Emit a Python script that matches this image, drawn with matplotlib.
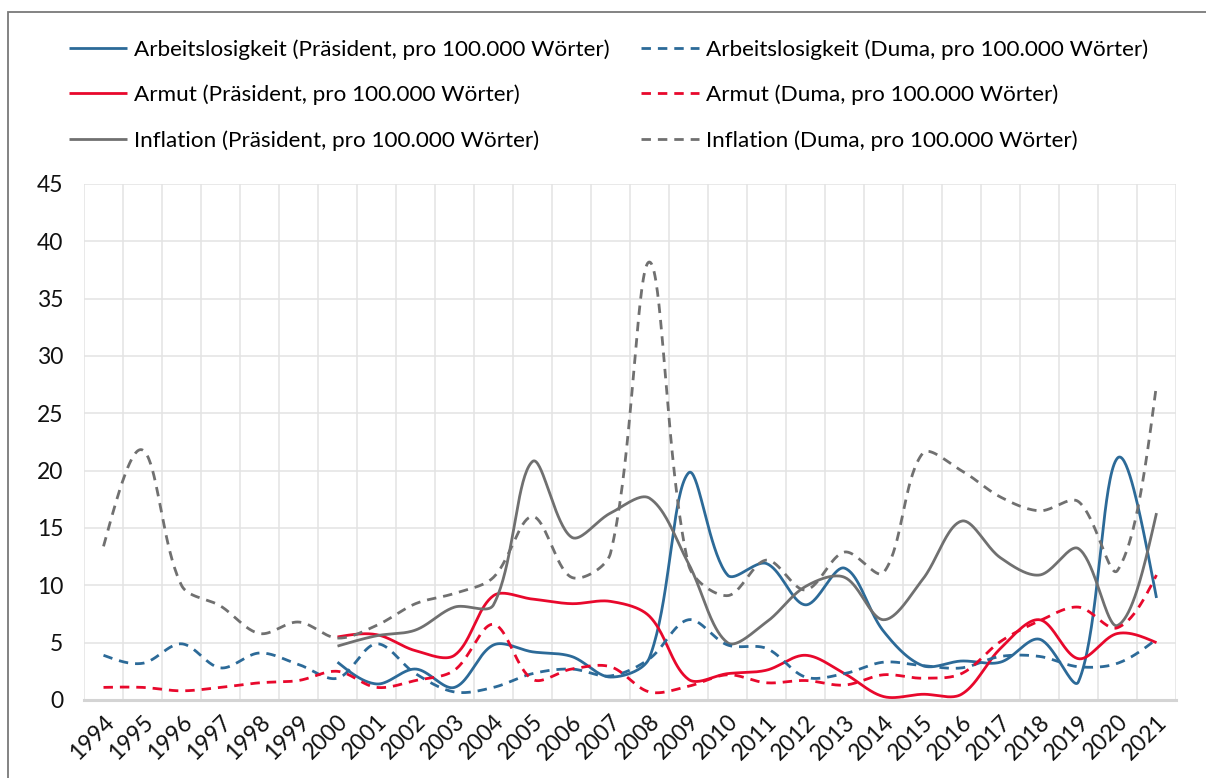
import numpy as np
import matplotlib
matplotlib.use("Agg")
from matplotlib import pyplot as plt
from matplotlib.patches import Rectangle

plt.rcParams['font.family'] = ['Lato', 'DejaVu Sans']

years = list(range(1994, 2022))

# Präsident-Reihen beginnen erst 2000 (None = kein Wert)
arbeit_praes = [None] * 6 + [3.3, 1.4, 2.7, 1.1, 4.8, 4.2, 3.8, 2.0, 3.7, 19.8,
                             10.9, 11.9, 8.3, 11.5, 6.0, 3.0, 3.4, 3.3, 5.3, 1.6, 21.1, 8.9]
armut_praes = [None] * 6 + [5.5, 5.7, 4.3, 3.9, 9.1, 8.8, 8.4, 8.6, 7.3, 1.8,
                            2.3, 2.6, 3.9, 2.3, 0.3, 0.5, 0.5, 4.5, 7.0, 3.6, 5.8, 5.0]
infl_praes = [None] * 6 + [4.7, 5.6, 6.1, 8.1, 8.3, 20.8, 14.2, 16.3, 17.6, 11.9,
                           5.0, 6.8, 9.9, 10.7, 7.0, 10.5, 15.6, 12.4, 10.9, 13.2, 6.5, 16.3]

arbeit_duma = [3.9, 3.2, 4.9, 2.8, 4.1, 3.1, 1.9, 4.9, 2.3, 0.7, 1.1, 2.3, 2.7, 2.1,
               3.6, 7.0, 4.8, 4.5, 2.0, 2.3, 3.3, 3.0, 2.8, 3.8, 3.8, 2.9, 3.2, 5.3]
armut_duma = [1.1, 1.1, 0.8, 1.1, 1.5, 1.7, 2.5, 1.1, 1.7, 2.6, 6.6, 1.8, 2.7, 2.9,
              0.7, 1.2, 2.2, 1.5, 1.7, 1.3, 2.2, 1.9, 2.3, 5.1, 6.9, 8.1, 6.3, 10.9]
infl_duma = [13.4, 21.8, 10.0, 8.2, 5.8, 6.8, 5.4, 6.5, 8.4, 9.3, 10.7, 16.0, 10.7, 12.8,
             38.2, 11.8, 9.1, 12.2, 9.6, 12.9, 11.1, 21.5, 20.0, 17.7, 16.5, 17.3, 11.3, 27.5]

labels_praes = ['Arbeitslosigkeit (Präsident, pro 100.000 Wörter)',
                'Armut (Präsident, pro 100.000 Wörter)',
                'Inflation (Präsident, pro 100.000 Wörter)']
labels_duma = ['Arbeitslosigkeit (Duma, pro 100.000 Wörter)',
               'Armut (Duma, pro 100.000 Wörter)',
               'Inflation (Duma, pro 100.000 Wörter)']

BLUE = '#2C6A98'
RED = '#E8082C'
GRAY = '#707070'

# Pixel pro Einheit (nur für die Sehnenlängen beim Glätten)
SX, SY = 39.0, 11.47


def smooth(xs, ys, n=40):
    # geglättete Linie ähnlich Excel: Bezier mit sehnenlängen-gewichteten Tangenten
    pts = np.array([(x, y) for x, y in zip(xs, ys) if y is not None], float)
    m = len(pts)
    scaled = pts * [SX, SY]
    d = np.hypot(*np.diff(scaled, axis=0).T)
    c_out = pts.copy()
    c_in = pts.copy()
    for i in range(1, m - 1):
        tan = pts[i + 1] - pts[i - 1]
        c_in[i] = pts[i] - tan * d[i - 1] / (d[i - 1] + d[i]) / 3
        c_out[i] = pts[i] + tan * d[i] / (d[i - 1] + d[i]) / 3
    c_out[0] = pts[0] + (c_in[1] - pts[0]) / 2
    c_in[-1] = pts[-1] + (c_out[-2] - pts[-1]) / 2
    t = np.linspace(0, 1, n)[:, None]
    out = []
    for i in range(m - 1):
        b = (1 - t) ** 3 * pts[i] + 3 * (1 - t) ** 2 * t * c_out[i] \
            + 3 * (1 - t) * t ** 2 * c_in[i + 1] + t ** 3 * pts[i + 1]
        out.append(b)
    out = np.vstack(out)
    return out[:, 0], out[:, 1]


fig = plt.figure(figsize=(12.06, 7.78), dpi=100)
ax = fig.add_axes([84 / 1206, 78 / 778, 1092 / 1206, 516 / 778])

xs = np.arange(len(years))
lw = 2.0
dash = (3.4, 2.5)

handles = []
for vals, col, lab in zip([arbeit_praes, armut_praes, infl_praes], [BLUE, RED, GRAY], labels_praes):
    sx, sy = smooth(xs, vals)
    h, = ax.plot(sx, sy, color=col, lw=lw, label=lab, solid_capstyle='butt')
    handles.append(h)
for vals, col, lab in zip([arbeit_duma, armut_duma, infl_duma], [BLUE, RED, GRAY], labels_duma):
    sx, sy = smooth(xs, vals)
    h, = ax.plot(sx, sy, color=col, lw=lw, label=lab, linestyle=(0, dash), dash_capstyle='butt')
    handles.append(h)

ax.set_xlim(-0.5, len(years) - 0.5)
ax.set_ylim(0, 45)
ax.set_yticks(range(0, 46, 5))
ax.set_xticks(xs)
ax.set_xticklabels([str(y) for y in years], rotation=45, ha='right', rotation_mode='anchor')
ax.set_xticks(np.arange(-0.5, len(years), 1), minor=True)
ax.tick_params(axis='both', which='both', length=0, labelsize=16.5, colors='#111111')
ax.tick_params(axis='x', pad=8)
ax.tick_params(axis='y', pad=15)
ax.grid(False)
ax.yaxis.grid(True, color='#e3e3e3', lw=1.1)
ax.xaxis.grid(True, which='minor', color='#e3e3e3', lw=1.1)
ax.set_axisbelow(True)
for s in ['top', 'right', 'left']:
    ax.spines[s].set_visible(False)
ax.spines['bottom'].set_color('#d4d4d4')
ax.spines['bottom'].set_linewidth(2.2)

fig.legend(handles=handles, ncol=2, loc='upper left', bbox_to_anchor=(49 / 1206, 1 - 19 / 778),
           frameon=False, fontsize=16.2, handlelength=2.55, handletextpad=0.32,
           columnspacing=1.42, labelspacing=1.1)

fig.patches.append(Rectangle((8 / 1206, -0.1), 1.2, 1.1 - 12 / 778, transform=fig.transFigure,
                             fill=False, edgecolor='#7a7a7a', lw=1.3))

fig.savefig('out.png', dpi=100)
